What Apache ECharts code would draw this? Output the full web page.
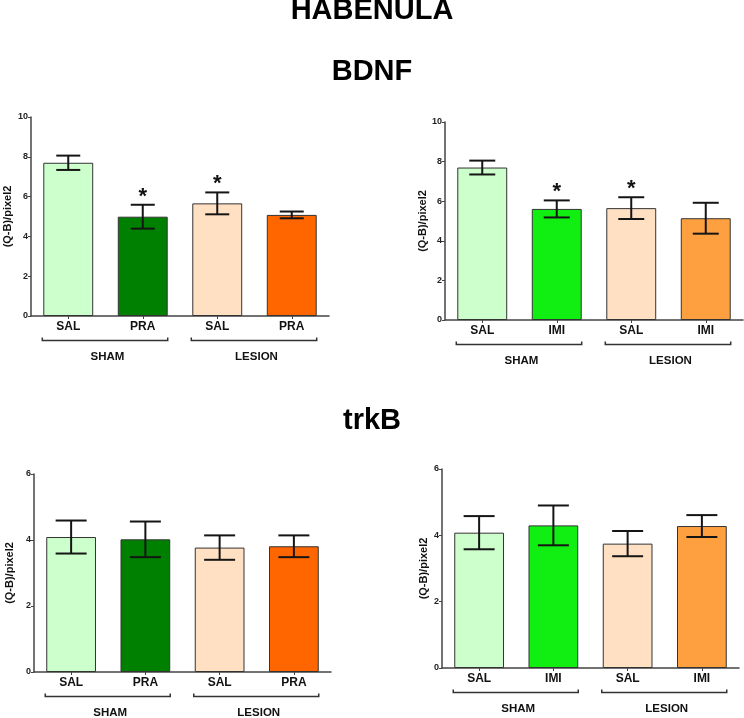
<!DOCTYPE html>
<html>
<head>
<meta charset="utf-8">
<script src="https://cdn.jsdelivr.net/npm/echarts@6/dist/echarts.min.js"></script>
<style>
html,body{margin:0;padding:0;background:#fff;}
#chart{width:744px;height:718px;}
</style>
</head>
<body>
<div id="chart"></div>
<script>
// ---------- data ----------
const catsPra = ['SAL', 'PRA', 'SAL', 'PRA'];
const catsImi = ['SAL', 'IMI', 'SAL', 'IMI'];
const groupLabels = ['SHAM', 'LESION'];
const groupSpans = [[0, 1], [2, 3]];
const yName = '(Q-B)/pixel2';

const bdnfPraMean = [7.70, 4.99, 5.66, 5.08];
const bdnfPraErr  = [0.36, 0.60, 0.55, 0.17];
const bdnfPraSig  = [0, 1, 1, 0];

const bdnfImiMean = [7.70, 5.61, 5.65, 5.14];
const bdnfImiErr  = [0.35, 0.43, 0.55, 0.78];
const bdnfImiSig  = [0, 1, 1, 0];

const trkbPraMean = [4.09, 4.02, 3.77, 3.81];
const trkbPraErr  = [0.50, 0.54, 0.37, 0.33];
const trkbPraSig  = [0, 0, 0, 0];

const trkbImiMean = [4.08, 4.30, 3.75, 4.28];
const trkbImiErr  = [0.50, 0.60, 0.38, 0.33];
const trkbImiSig  = [0, 0, 0, 0];

const yMaxBdnf = 10, yMaxTrkb = 6, yStep = 2;

// ---------- styles ----------
const FONT = '"Liberation Sans", Arial, sans-serif';
const colorsPra = ['#CCFFCC', '#008000', '#FFE0C2', '#FF6600'];
const colorsImi = ['#CCFFCC', '#11EE11', '#FFE0C2', '#FFA040'];

const panels = [
  {cats: catsPra, mean: bdnfPraMean, err: bdnfPraErr, sig: bdnfPraSig, colors: colorsPra, max: yMaxBdnf,
   grid: {left: 31, top: 117, width: 298, height: 199}, nameGap: 18, cap: 24},
  {cats: catsImi, mean: bdnfImiMean, err: bdnfImiErr, sig: bdnfImiSig, colors: colorsImi, max: yMaxBdnf,
   grid: {left: 445, top: 122, width: 298, height: 198}, nameGap: 13, cap: 26},
  {cats: catsPra, mean: trkbPraMean, err: trkbPraErr, sig: trkbPraSig, colors: colorsPra, max: yMaxTrkb,
   grid: {left: 34, top: 474, width: 297, height: 198}, nameGap: 19, cap: 31},
  {cats: catsImi, mean: trkbImiMean, err: trkbImiErr, sig: trkbImiSig, colors: colorsImi, max: yMaxTrkb,
   grid: {left: 442, top: 469, width: 297, height: 199}, nameGap: 13, cap: 31}
];

const grids = [], xAxes = [], yAxes = [], series = [];
panels.forEach((p, k) => {
  grids.push(Object.assign({containLabel: false}, p.grid));
  xAxes.push({
    type: 'category', gridIndex: k, data: p.cats,
    axisLine: {lineStyle: {color: '#444', width: 1.5}},
    axisTick: {show: true, alignWithLabel: true, length: 3, lineStyle: {color: '#444', width: 1}},
    axisLabel: {fontFamily: FONT, fontWeight: 'bold', fontSize: 12, color: '#111', margin: 5}
  });
  yAxes.push({
    type: 'value', gridIndex: k, min: 0, max: p.max, interval: yStep,
    name: yName, nameLocation: 'middle', nameRotate: 90, nameGap: p.nameGap,
    nameTextStyle: {fontFamily: FONT, fontWeight: 'bold', fontSize: 11, color: '#111'},
    axisLine: {show: true, lineStyle: {color: '#444', width: 1.5}},
    axisTick: {show: true, length: 3, lineStyle: {color: '#444', width: 1}},
    splitLine: {show: false},
    axisLabel: {fontFamily: FONT, fontWeight: 'bold', fontSize: 9, color: '#222', margin: 3}
  });
  series.push({
    type: 'bar', xAxisIndex: k, yAxisIndex: k, barWidth: '67%', z: 2,
    data: p.mean.map((v, i) => ({value: v, itemStyle: {color: p.colors[i], borderColor: '#333', borderWidth: 1}})),
    silent: true, animation: false
  });
  const cap = p.cap;
  series.push({
    type: 'custom', xAxisIndex: k, yAxisIndex: k, animation: false, silent: true, z: 5,
    encode: {x: 0, y: 1},
    data: p.mean.map((v, i) => [i, v, p.err[i], p.sig[i]]),
    renderItem: function (params, api) {
      const i = api.value(0), m = api.value(1), e = api.value(2), s = api.value(3);
      const top = api.coord([i, m + e]);
      const bot = api.coord([i, m - e]);
      const x = top[0];
      const st = {stroke: '#151515', lineWidth: 2};
      const children = [
        {type: 'line', shape: {x1: x, y1: top[1], x2: x, y2: bot[1]}, style: st},
        {type: 'line', shape: {x1: x - cap / 2, y1: top[1], x2: x + cap / 2, y2: top[1]}, style: st},
        {type: 'line', shape: {x1: x - cap / 2, y1: bot[1], x2: x + cap / 2, y2: bot[1]}, style: st}
      ];
      if (s) {
        children.push({type: 'text', style: {text: '*', x: x, y: top[1] - 8, textAlign: 'center',
          textVerticalAlign: 'middle', font: 'bold 22px ' + FONT, fill: '#111'}});
      }
      return {type: 'group', children: children};
    }
  });
  series.push({
    type: 'custom', xAxisIndex: k, yAxisIndex: k, animation: false, silent: true, z: 5,
    encode: {x: 0},
    data: groupSpans.map((g, j) => [g[0], g[1], j]),
    renderItem: function (params, api) {
      const a = api.coord([api.value(0), 0]);
      const b = api.coord([api.value(1), 0]);
      const half = api.size([1, 0])[0] * 0.335;
      const y = a[1] + 24.5;
      const x0 = a[0] - half - 1, x1 = b[0] + half;
      return {type: 'group', children: [
        {type: 'polyline', shape: {points: [[x0, y - 3], [x0, y], [x1, y], [x1, y - 3]]},
          style: {stroke: '#333', lineWidth: 1.5, fill: null}},
        {type: 'text', style: {text: groupLabels[api.value(2)], x: (a[0] + b[0]) / 2 + 2, y: a[1] + 41,
          textAlign: 'center', textVerticalAlign: 'middle', font: 'bold 11.5px ' + FONT, fill: '#111'}}
      ]};
    }
  });
});

const chart = echarts.init(document.getElementById('chart'), null, {renderer: 'canvas'});
chart.setOption({
  backgroundColor: '#fff',
  animation: false,
  grid: grids, xAxis: xAxes, yAxis: yAxes, series: series,
  graphic: [
    {type: 'text', left: 'center', top: -4, style: {text: 'HABENULA', font: 'bold 29px ' + FONT, fill: '#000'}},
    {type: 'text', left: 'center', top: 57, style: {text: 'BDNF', font: 'bold 29px ' + FONT, fill: '#000'}},
    {type: 'text', left: 'center', top: 406, style: {text: 'trkB', font: 'bold 29px ' + FONT, fill: '#000'}}
  ]
});
</script>
</body>
</html>
